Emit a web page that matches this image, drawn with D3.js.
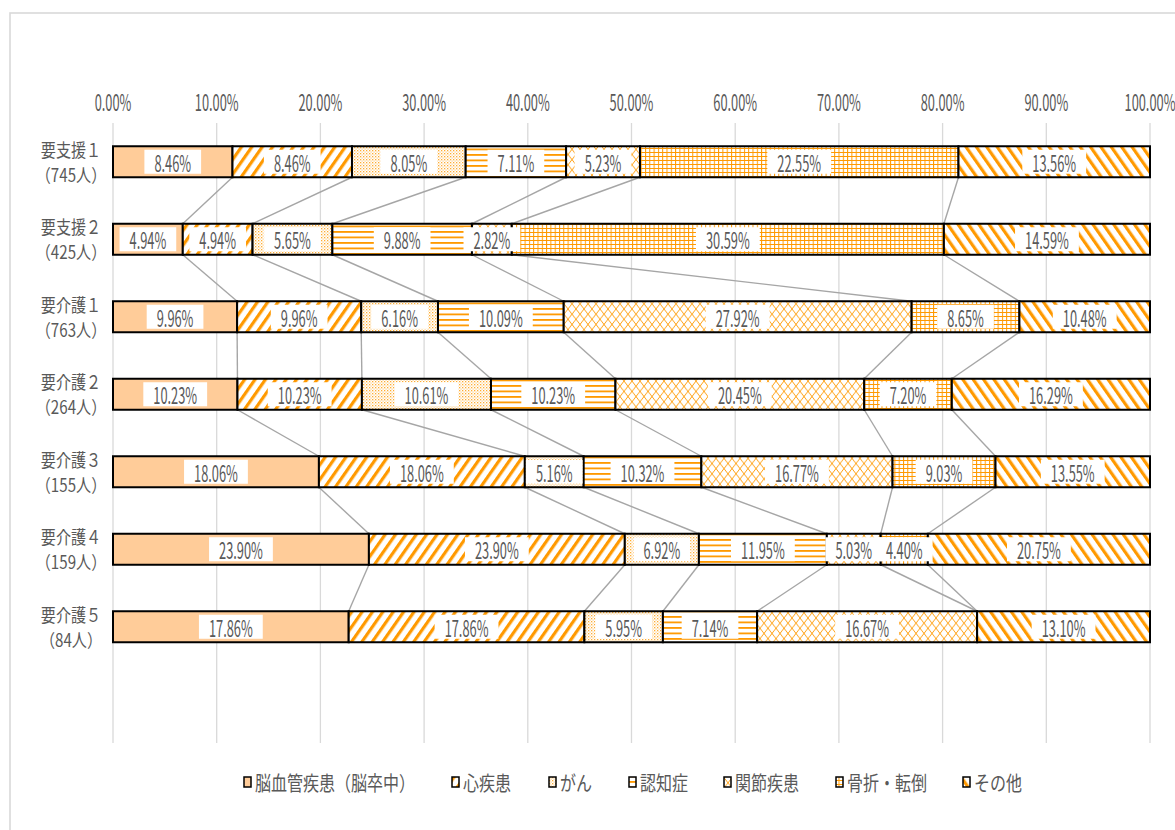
<!DOCTYPE html>
<html lang="ja">
<head>
<meta charset="utf-8">
<script src="https://cdn.jsdelivr.net/npm/d3@7"></script>
<style>
  html, body { margin: 0; padding: 0; background: #fff; }
  svg { display: block; font-family: "Noto Sans CJK JP", "Noto Sans", sans-serif; }
</style>
</head>
<body>
<svg id="chart" width="1175" height="830"></svg>
<script>
// 要介護度別の主な原因疾患の構成比（100% 積み上げ横棒）
const rows = ["要支援１", "要支援２", "要介護１", "要介護２", "要介護３", "要介護４", "要介護５"];
const counts = ["（745人）", "（425人）", "（763人）", "（264人）", "（155人）", "（159人）", "（84人）"];
const seriesNames = ["脳血管疾患（脳卒中）", "心疾患", "がん", "認知症", "関節疾患", "骨折・転倒", "その他"];

// 各原因の割合（%）
const cerebrovascular = [8.46, 4.94, 9.96, 10.23, 18.06, 23.90, 17.86];
const heartDisease    = [8.46, 4.94, 9.96, 10.23, 18.06, 23.90, 17.86];
const cancer          = [8.05, 5.65, 6.16, 10.61, 5.16, 6.92, 5.95];
const dementia        = [7.11, 9.88, 10.09, 10.23, 10.32, 11.95, 7.14];
const jointDisease    = [5.23, 2.82, 27.92, 20.45, 16.77, 5.03, 16.67];
const fracture        = [22.55, 30.59, 8.65, 7.20, 9.03, 4.40, 0];
const otherCauses     = [13.56, 14.59, 10.48, 16.29, 13.55, 20.75, 13.10];

const tickValues = [0, 0.1, 0.2, 0.3, 0.4, 0.5, 0.6, 0.7, 0.8, 0.9, 1.0];

const seriesValues = [cerebrovascular, heartDisease, cancer, dementia, jointDisease, fracture, otherCauses];
const table = rows.map((r, i) => {
  const o = { row: r };
  seriesNames.forEach((s, k) => { o[s] = seriesValues[k][i]; });
  return o;
});

const svg = d3.select("#chart");
const ORANGE = "#FF9900";
const TEXT = "#595959";
const NUM_SIZE = 22.5, NUM_SX = 0.57;
const JP_SIZE = 20;

// ---- fill patterns ----
const defs = svg.append("defs");
function pat(id, w, h, transform) {
  const p = defs.append("pattern").attr("id", id)
    .attr("patternUnits", "userSpaceOnUse").attr("width", w).attr("height", h);
  if (transform) p.attr("patternTransform", transform);
  p.append("rect").attr("width", w).attr("height", h).attr("fill", "#fff");
  return p;
}
// 心疾患: wide upward diagonal
pat("p1", 8.5, 10, "rotate(35)").append("rect").attr("x", 0).attr("width", 3.2).attr("height", 10).attr("fill", ORANGE);
// がん: fine dots
{
  const p = pat("p2", 3, 3);
  p.append("rect").attr("x", 0).attr("y", 0).attr("width", 1.3).attr("height", 1.3).attr("fill", ORANGE).attr("opacity", 0.8);
  p.append("rect").attr("x", 1.5).attr("y", 1.5).attr("width", 1.2).attr("height", 1.2).attr("fill", ORANGE).attr("opacity", 0.5);
}
// 認知症: horizontal lines
pat("p3", 6, 5.5).append("rect").attr("x", 0).attr("y", 0).attr("width", 6).attr("height", 1.8).attr("fill", ORANGE);
// 関節疾患: trellis
{
  const p = pat("p4", 8, 10.3);
  p.append("path").attr("d", "M0,0L8,10.3M8,0L0,10.3").attr("stroke", ORANGE).attr("stroke-width", 0.9).attr("fill", "none");
}
// 骨折・転倒: small grid
{
  const p = pat("p5", 4.3, 4);
  p.append("path").attr("d", "M0.5,0V4M0,0.5H4.3").attr("stroke", ORANGE).attr("stroke-width", 1).attr("fill", "none");
}
// その他: wide downward diagonal
pat("p6", 8.5, 10, "rotate(-35)").append("rect").attr("x", 0).attr("width", 3.2).attr("height", 10).attr("fill", ORANGE);

const fills = ["#FFCC99", "url(#p1)", "url(#p2)", "url(#p3)", "url(#p4)", "url(#p5)", "url(#p6)"];

// ---- text helper (narrow rendering) ----
function label(g, x, y, str, size, sx, anchor) {
  return g.append("text")
    .attr("transform", `translate(${x},${y}) scale(${sx},1)`)
    .attr("text-anchor", anchor || "middle")
    .attr("dominant-baseline", "central")
    .attr("font-size", size)
    .attr("fill", TEXT)
    .text(str);
}

// ---- frame ----
svg.append("rect").attr("x", 10).attr("y", 13).attr("width", 1200).attr("height", 850)
  .attr("fill", "none").attr("stroke", "#D9D9D9").attr("stroke-width", 1.6);

// ---- scales ----
const x = d3.scaleLinear().domain([0, 1]).range([113, 1150]);
const y = d3.scaleBand().domain(rows).range([123, 123 + 77.5 * 7]).paddingInner(0.6).paddingOuter(0.3);
const plotBottom = 743;

// ---- gridlines & top axis labels ----
const grid = svg.append("g");
grid.selectAll("line").data(tickValues).join("line")
  .attr("x1", d => x(d)).attr("x2", d => x(d))
  .attr("y1", 123).attr("y2", plotBottom)
  .attr("stroke", "#D9D9D9").attr("stroke-width", 1.3);
const fmt = d3.format(".2%");
tickValues.forEach(t => label(svg, x(t), 101, fmt(t), NUM_SIZE, NUM_SX));

// ---- stacked layout (each row normalised to 100%) ----
const stack = d3.stack().keys(seriesNames).offset(d3.stackOffsetExpand);
const layers = stack(table);

// ---- series lines between bars ----
const sl = svg.append("g");
for (let k = 0; k < seriesNames.length - 1; k++) {
  for (let i = 0; i < rows.length - 1; i++) {
    sl.append("line")
      .attr("x1", x(layers[k][i][1])).attr("y1", y(rows[i]) + y.bandwidth())
      .attr("x2", x(layers[k][i + 1][1])).attr("y2", y(rows[i + 1]))
      .attr("stroke", "#A6A6A6").attr("stroke-width", 1.4);
  }
}

// ---- bars ----
const bars = svg.append("g");
layers.forEach((layer, k) => {
  bars.append("g").selectAll("rect").data(layer).join("rect")
    .attr("x", d => x(d[0]))
    .attr("y", (d, i) => y(rows[i]))
    .attr("width", d => x(d[1]) - x(d[0]))
    .attr("height", y.bandwidth())
    .attr("fill", fills[k])
    .attr("stroke", "#000").attr("stroke-width", 2);
});

// ---- value labels ----
const labels = svg.append("g");
layers.forEach((layer, k) => {
  layer.forEach((d, i) => {
    const v = seriesValues[k][i];
    if (!v) return;
    const cx = (x(d[0]) + x(d[1])) / 2;
    const cy = y(rows[i]) + y.bandwidth() / 2;
    const g = labels.append("g");
    const box = g.append("rect");
    const t = label(g, cx, cy, v.toFixed(2) + "%", NUM_SIZE, NUM_SX);
    const w = t.node().getComputedTextLength() * NUM_SX + 20;
    box.attr("x", cx - w / 2).attr("y", cy - 12).attr("width", w).attr("height", 24).attr("fill", "#fff");
  });
});

// ---- row labels (two lines) ----
rows.forEach((r, i) => {
  const cy = y(r) + y.bandwidth() / 2;
  label(svg, 71, cy - 12.5, r, 18, 0.84);
  label(svg, 71, cy + 12.5, counts[i], 18, 0.84);
});

// ---- legend ----
const legendX = [244, 452, 549, 629, 724, 836, 963];
const lg = svg.append("g");
seriesNames.forEach((s, k) => {
  lg.append("rect").attr("x", legendX[k]).attr("y", 777).attr("width", 7).attr("height", 10)
    .attr("fill", fills[k]).attr("stroke", "#000").attr("stroke-width", 1.5);
  label(lg, legendX[k] + 11, 782, s, JP_SIZE, 0.8, "start");
});
</script>
</body>
</html>
